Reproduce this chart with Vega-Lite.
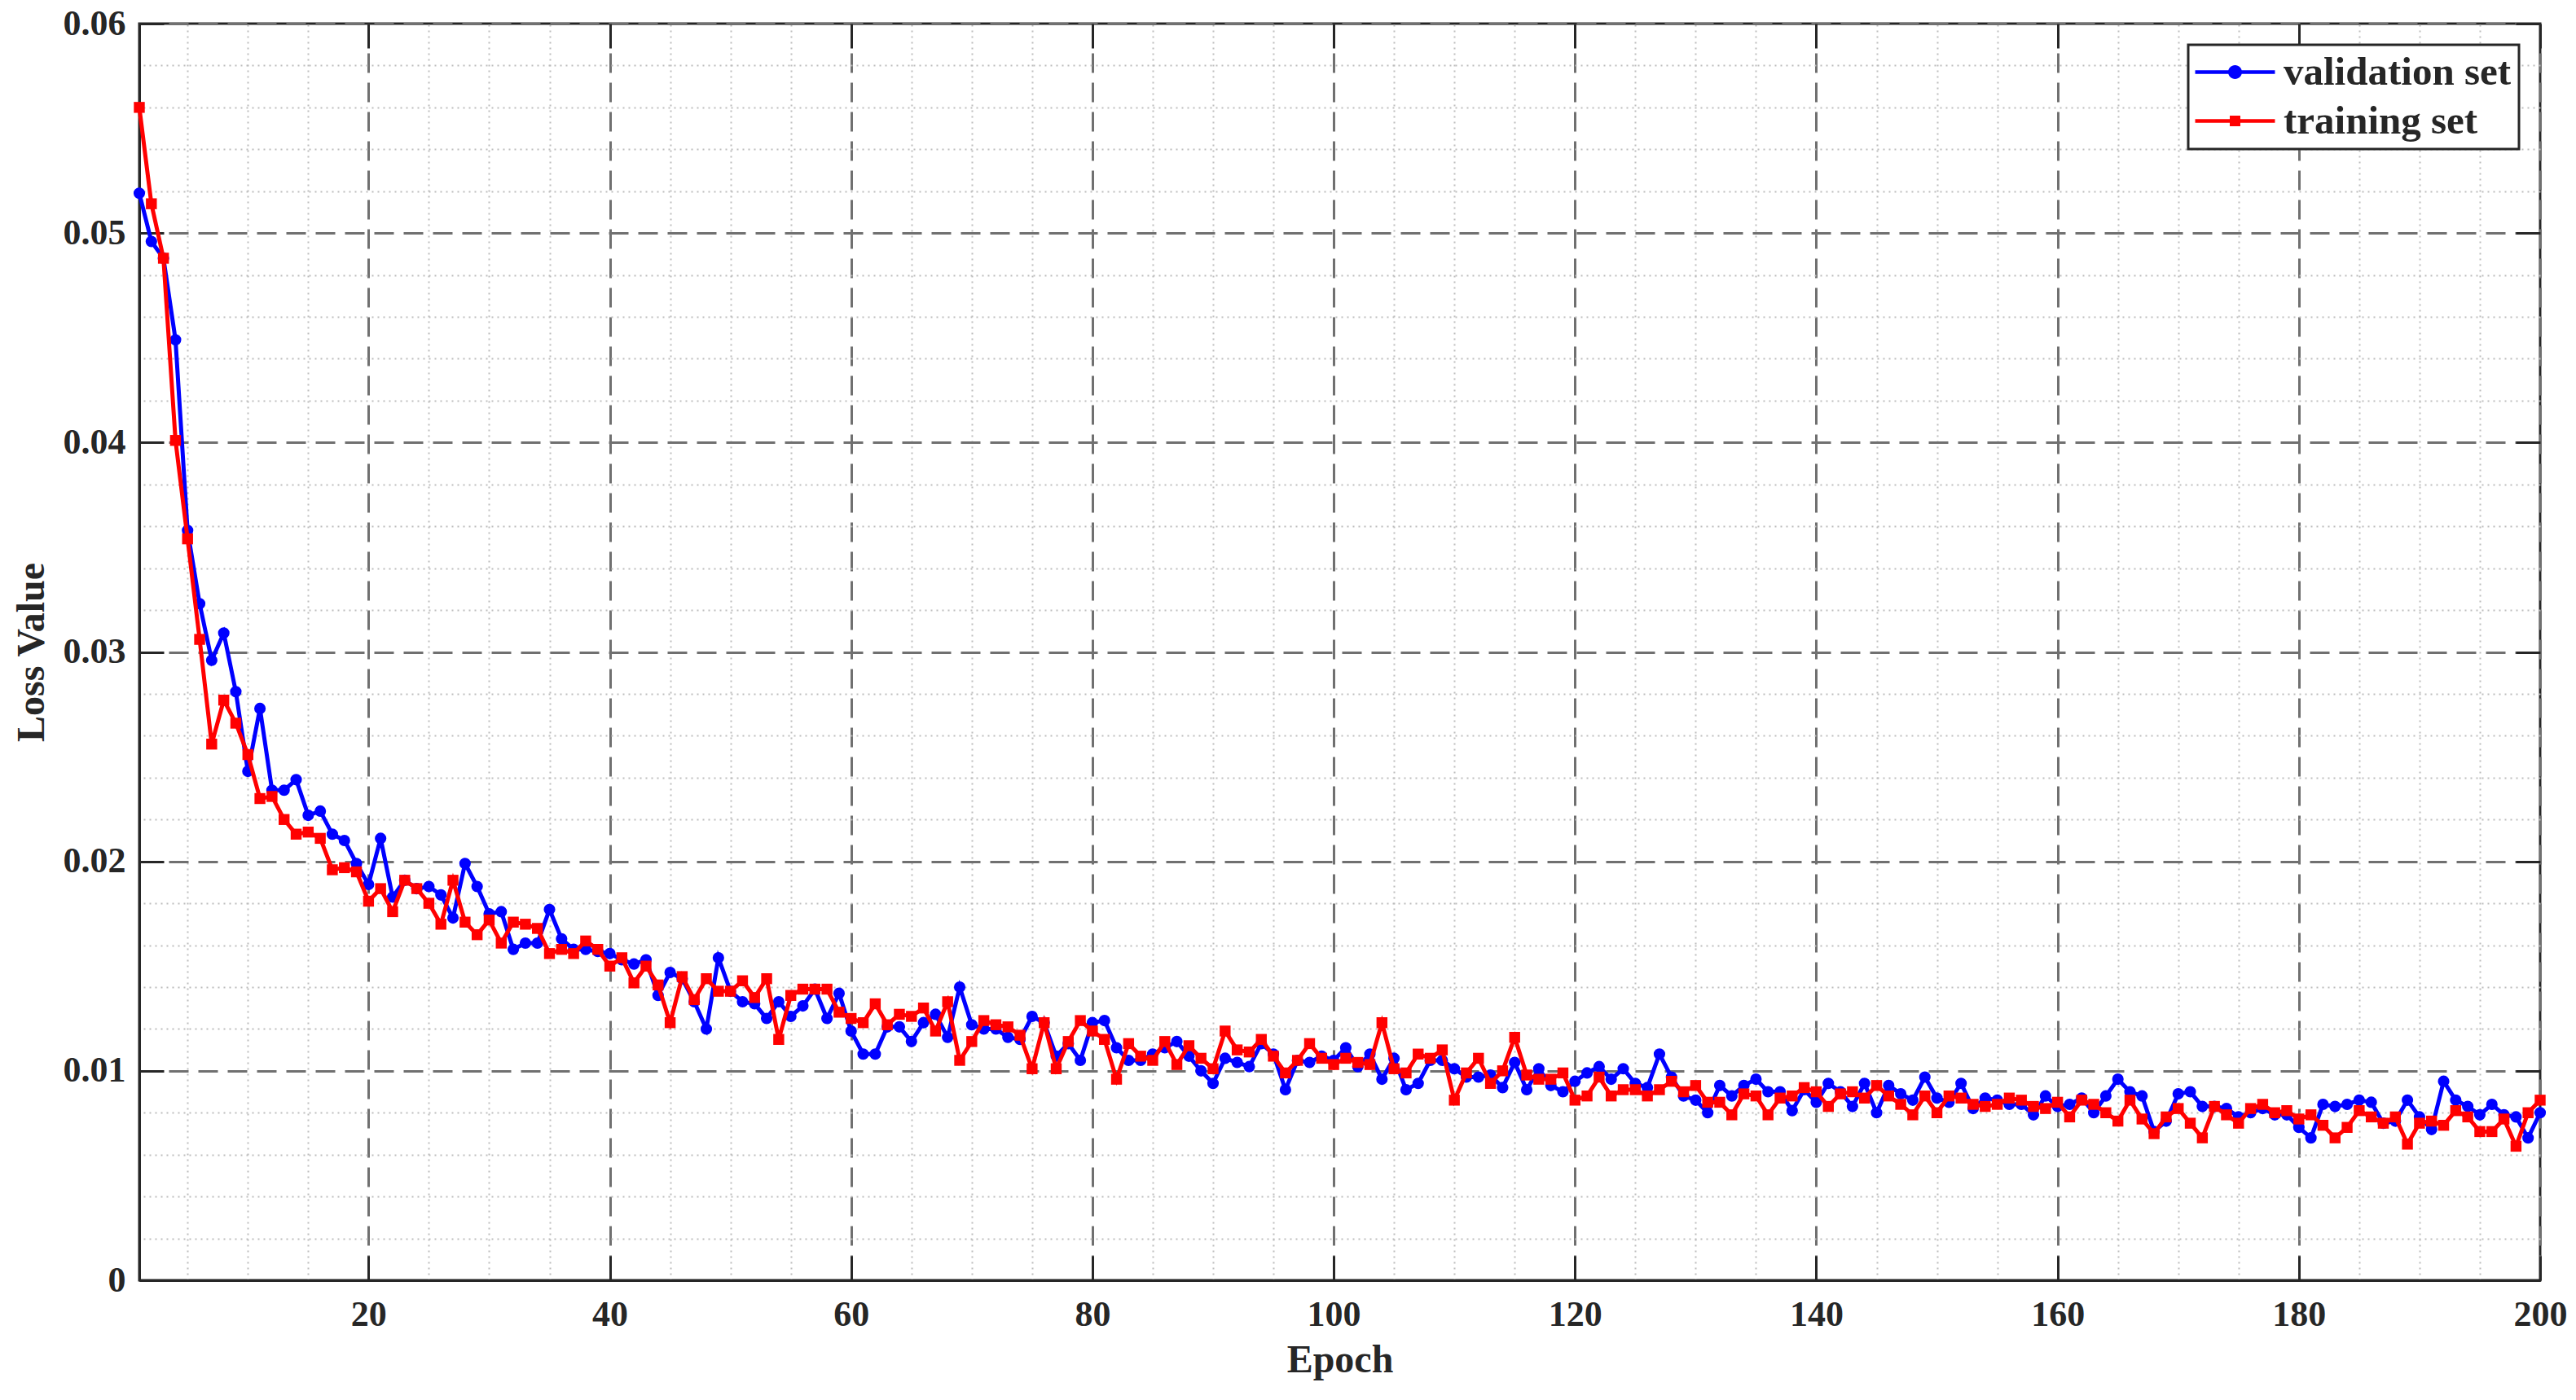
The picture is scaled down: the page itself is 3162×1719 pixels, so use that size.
{
  "$schema": "https://vega.github.io/schema/vega-lite/v6.json",
  "width": 2947,
  "height": 1543,
  "autosize": {"type": "none"},
  "padding": {"left": 171, "top": 29, "right": 44, "bottom": 147},
  "background": "white",
  "config": {
    "view": {"stroke": "#262626", "strokeWidth": 3},
    "font": "Liberation Serif",
    "axis": {
      "labelFont": "Liberation Serif", "labelFontSize": 44, "labelFontWeight": "bold", "labelColor": "#262626",
      "titleFont": "Liberation Serif", "titleFontSize": 48, "titleFontWeight": "bold", "titleColor": "#262626",
      "domainColor": "#262626", "domainWidth": 3, "tickColor": "#262626", "tickWidth": 3,
      "labelOverlap": false
    },
    "legend": {
      "orient": "top-right", "offset": 26, "strokeColor": "#262626", "strokeWidth": 3, "fillColor": "white",
      "padding": 9, "labelFont": "Liberation Serif", "labelFontSize": 49, "labelFontWeight": "bold", "labelColor": "#262626",
      "labelLimit": 0, "symbolSize": 2304, "symbolOffset": 24, "labelOffset": 35, "rowPadding": 10, "title": null,
      "symbolStrokeWidth": 0
    }
  },
  "data": {"values": [
{"epoch":1,"set":"validation set","loss":0.0519},{"epoch":2,"set":"validation set","loss":0.0496},{"epoch":3,"set":"validation set","loss":0.0488},{"epoch":4,"set":"validation set","loss":0.0449},{"epoch":5,"set":"validation set","loss":0.0358},
{"epoch":6,"set":"validation set","loss":0.0323},{"epoch":7,"set":"validation set","loss":0.0296},{"epoch":8,"set":"validation set","loss":0.0309},{"epoch":9,"set":"validation set","loss":0.0281},{"epoch":10,"set":"validation set","loss":0.0243},
{"epoch":11,"set":"validation set","loss":0.0273},{"epoch":12,"set":"validation set","loss":0.0234},{"epoch":13,"set":"validation set","loss":0.0234},{"epoch":14,"set":"validation set","loss":0.0239},{"epoch":15,"set":"validation set","loss":0.0222},
{"epoch":16,"set":"validation set","loss":0.0224},{"epoch":17,"set":"validation set","loss":0.0213},{"epoch":18,"set":"validation set","loss":0.0210},{"epoch":19,"set":"validation set","loss":0.0199},{"epoch":20,"set":"validation set","loss":0.0189},
{"epoch":21,"set":"validation set","loss":0.0211},{"epoch":22,"set":"validation set","loss":0.0183},{"epoch":23,"set":"validation set","loss":0.0191},{"epoch":24,"set":"validation set","loss":0.0187},{"epoch":25,"set":"validation set","loss":0.0188},
{"epoch":26,"set":"validation set","loss":0.0184},{"epoch":27,"set":"validation set","loss":0.0173},{"epoch":28,"set":"validation set","loss":0.0199},{"epoch":29,"set":"validation set","loss":0.0188},{"epoch":30,"set":"validation set","loss":0.0175},
{"epoch":31,"set":"validation set","loss":0.0176},{"epoch":32,"set":"validation set","loss":0.0158},{"epoch":33,"set":"validation set","loss":0.0161},{"epoch":34,"set":"validation set","loss":0.0161},{"epoch":35,"set":"validation set","loss":0.0177},
{"epoch":36,"set":"validation set","loss":0.0163},{"epoch":37,"set":"validation set","loss":0.0158},{"epoch":38,"set":"validation set","loss":0.0158},{"epoch":39,"set":"validation set","loss":0.0157},{"epoch":40,"set":"validation set","loss":0.0156},
{"epoch":41,"set":"validation set","loss":0.0153},{"epoch":42,"set":"validation set","loss":0.0151},{"epoch":43,"set":"validation set","loss":0.0153},{"epoch":44,"set":"validation set","loss":0.0136},{"epoch":45,"set":"validation set","loss":0.0147},
{"epoch":46,"set":"validation set","loss":0.0144},{"epoch":47,"set":"validation set","loss":0.0133},{"epoch":48,"set":"validation set","loss":0.0120},{"epoch":49,"set":"validation set","loss":0.0154},{"epoch":50,"set":"validation set","loss":0.0138},
{"epoch":51,"set":"validation set","loss":0.0133},{"epoch":52,"set":"validation set","loss":0.0132},{"epoch":53,"set":"validation set","loss":0.0125},{"epoch":54,"set":"validation set","loss":0.0133},{"epoch":55,"set":"validation set","loss":0.0126},
{"epoch":56,"set":"validation set","loss":0.0131},{"epoch":57,"set":"validation set","loss":0.0139},{"epoch":58,"set":"validation set","loss":0.0125},{"epoch":59,"set":"validation set","loss":0.0137},{"epoch":60,"set":"validation set","loss":0.0119},
{"epoch":61,"set":"validation set","loss":0.0108},{"epoch":62,"set":"validation set","loss":0.0108},{"epoch":63,"set":"validation set","loss":0.0121},{"epoch":64,"set":"validation set","loss":0.0121},{"epoch":65,"set":"validation set","loss":0.0114},
{"epoch":66,"set":"validation set","loss":0.0123},{"epoch":67,"set":"validation set","loss":0.0127},{"epoch":68,"set":"validation set","loss":0.0116},{"epoch":69,"set":"validation set","loss":0.0140},{"epoch":70,"set":"validation set","loss":0.0122},
{"epoch":71,"set":"validation set","loss":0.0120},{"epoch":72,"set":"validation set","loss":0.0120},{"epoch":73,"set":"validation set","loss":0.0116},{"epoch":74,"set":"validation set","loss":0.0115},{"epoch":75,"set":"validation set","loss":0.0126},
{"epoch":76,"set":"validation set","loss":0.0123},{"epoch":77,"set":"validation set","loss":0.0107},{"epoch":78,"set":"validation set","loss":0.0113},{"epoch":79,"set":"validation set","loss":0.0105},{"epoch":80,"set":"validation set","loss":0.0123},
{"epoch":81,"set":"validation set","loss":0.0124},{"epoch":82,"set":"validation set","loss":0.0111},{"epoch":83,"set":"validation set","loss":0.0105},{"epoch":84,"set":"validation set","loss":0.0105},{"epoch":85,"set":"validation set","loss":0.0108},
{"epoch":86,"set":"validation set","loss":0.0111},{"epoch":87,"set":"validation set","loss":0.0114},{"epoch":88,"set":"validation set","loss":0.0107},{"epoch":89,"set":"validation set","loss":0.0100},{"epoch":90,"set":"validation set","loss":0.0094},
{"epoch":91,"set":"validation set","loss":0.0106},{"epoch":92,"set":"validation set","loss":0.0104},{"epoch":93,"set":"validation set","loss":0.0102},{"epoch":94,"set":"validation set","loss":0.0113},{"epoch":95,"set":"validation set","loss":0.0108},
{"epoch":96,"set":"validation set","loss":0.0091},{"epoch":97,"set":"validation set","loss":0.0105},{"epoch":98,"set":"validation set","loss":0.0104},{"epoch":99,"set":"validation set","loss":0.0107},{"epoch":100,"set":"validation set","loss":0.0105},
{"epoch":101,"set":"validation set","loss":0.0111},{"epoch":102,"set":"validation set","loss":0.0102},{"epoch":103,"set":"validation set","loss":0.0108},{"epoch":104,"set":"validation set","loss":0.0096},{"epoch":105,"set":"validation set","loss":0.0106},
{"epoch":106,"set":"validation set","loss":0.0091},{"epoch":107,"set":"validation set","loss":0.0094},{"epoch":108,"set":"validation set","loss":0.0105},{"epoch":109,"set":"validation set","loss":0.0105},{"epoch":110,"set":"validation set","loss":0.0101},
{"epoch":111,"set":"validation set","loss":0.0097},{"epoch":112,"set":"validation set","loss":0.0097},{"epoch":113,"set":"validation set","loss":0.0098},{"epoch":114,"set":"validation set","loss":0.0092},{"epoch":115,"set":"validation set","loss":0.0104},
{"epoch":116,"set":"validation set","loss":0.0091},{"epoch":117,"set":"validation set","loss":0.0101},{"epoch":118,"set":"validation set","loss":0.0093},{"epoch":119,"set":"validation set","loss":0.0090},{"epoch":120,"set":"validation set","loss":0.0095},
{"epoch":121,"set":"validation set","loss":0.0099},{"epoch":122,"set":"validation set","loss":0.0102},{"epoch":123,"set":"validation set","loss":0.0096},{"epoch":124,"set":"validation set","loss":0.0101},{"epoch":125,"set":"validation set","loss":0.0094},
{"epoch":126,"set":"validation set","loss":0.0092},{"epoch":127,"set":"validation set","loss":0.0108},{"epoch":128,"set":"validation set","loss":0.0097},{"epoch":129,"set":"validation set","loss":0.0088},{"epoch":130,"set":"validation set","loss":0.0086},
{"epoch":131,"set":"validation set","loss":0.0080},{"epoch":132,"set":"validation set","loss":0.0093},{"epoch":133,"set":"validation set","loss":0.0088},{"epoch":134,"set":"validation set","loss":0.0093},{"epoch":135,"set":"validation set","loss":0.0096},
{"epoch":136,"set":"validation set","loss":0.0090},{"epoch":137,"set":"validation set","loss":0.0090},{"epoch":138,"set":"validation set","loss":0.0081},{"epoch":139,"set":"validation set","loss":0.0091},{"epoch":140,"set":"validation set","loss":0.0085},
{"epoch":141,"set":"validation set","loss":0.0094},{"epoch":142,"set":"validation set","loss":0.0090},{"epoch":143,"set":"validation set","loss":0.0083},{"epoch":144,"set":"validation set","loss":0.0094},{"epoch":145,"set":"validation set","loss":0.0080},
{"epoch":146,"set":"validation set","loss":0.0093},{"epoch":147,"set":"validation set","loss":0.0089},{"epoch":148,"set":"validation set","loss":0.0086},{"epoch":149,"set":"validation set","loss":0.0097},{"epoch":150,"set":"validation set","loss":0.0087},
{"epoch":151,"set":"validation set","loss":0.0085},{"epoch":152,"set":"validation set","loss":0.0094},{"epoch":153,"set":"validation set","loss":0.0082},{"epoch":154,"set":"validation set","loss":0.0087},{"epoch":155,"set":"validation set","loss":0.0086},
{"epoch":156,"set":"validation set","loss":0.0084},{"epoch":157,"set":"validation set","loss":0.0084},{"epoch":158,"set":"validation set","loss":0.0079},{"epoch":159,"set":"validation set","loss":0.0088},{"epoch":160,"set":"validation set","loss":0.0083},
{"epoch":161,"set":"validation set","loss":0.0084},{"epoch":162,"set":"validation set","loss":0.0087},{"epoch":163,"set":"validation set","loss":0.0080},{"epoch":164,"set":"validation set","loss":0.0088},{"epoch":165,"set":"validation set","loss":0.0096},
{"epoch":166,"set":"validation set","loss":0.0090},{"epoch":167,"set":"validation set","loss":0.0088},{"epoch":168,"set":"validation set","loss":0.0071},{"epoch":169,"set":"validation set","loss":0.0076},{"epoch":170,"set":"validation set","loss":0.0089},
{"epoch":171,"set":"validation set","loss":0.0090},{"epoch":172,"set":"validation set","loss":0.0083},{"epoch":173,"set":"validation set","loss":0.0083},{"epoch":174,"set":"validation set","loss":0.0082},{"epoch":175,"set":"validation set","loss":0.0078},
{"epoch":176,"set":"validation set","loss":0.0080},{"epoch":177,"set":"validation set","loss":0.0082},{"epoch":178,"set":"validation set","loss":0.0079},{"epoch":179,"set":"validation set","loss":0.0079},{"epoch":180,"set":"validation set","loss":0.0073},
{"epoch":181,"set":"validation set","loss":0.0068},{"epoch":182,"set":"validation set","loss":0.0084},{"epoch":183,"set":"validation set","loss":0.0083},{"epoch":184,"set":"validation set","loss":0.0084},{"epoch":185,"set":"validation set","loss":0.0086},
{"epoch":186,"set":"validation set","loss":0.0085},{"epoch":187,"set":"validation set","loss":0.0075},{"epoch":188,"set":"validation set","loss":0.0076},{"epoch":189,"set":"validation set","loss":0.0086},{"epoch":190,"set":"validation set","loss":0.0078},
{"epoch":191,"set":"validation set","loss":0.0072},{"epoch":192,"set":"validation set","loss":0.0095},{"epoch":193,"set":"validation set","loss":0.0086},{"epoch":194,"set":"validation set","loss":0.0083},{"epoch":195,"set":"validation set","loss":0.0079},
{"epoch":196,"set":"validation set","loss":0.0084},{"epoch":197,"set":"validation set","loss":0.0079},{"epoch":198,"set":"validation set","loss":0.0078},{"epoch":199,"set":"validation set","loss":0.0068},{"epoch":200,"set":"validation set","loss":0.0080},
{"epoch":1,"set":"training set","loss":0.0560},{"epoch":2,"set":"training set","loss":0.0514},{"epoch":3,"set":"training set","loss":0.0488},{"epoch":4,"set":"training set","loss":0.0401},{"epoch":5,"set":"training set","loss":0.0354},
{"epoch":6,"set":"training set","loss":0.0306},{"epoch":7,"set":"training set","loss":0.0256},{"epoch":8,"set":"training set","loss":0.0277},{"epoch":9,"set":"training set","loss":0.0266},{"epoch":10,"set":"training set","loss":0.0251},
{"epoch":11,"set":"training set","loss":0.0230},{"epoch":12,"set":"training set","loss":0.0231},{"epoch":13,"set":"training set","loss":0.0220},{"epoch":14,"set":"training set","loss":0.0213},{"epoch":15,"set":"training set","loss":0.0214},
{"epoch":16,"set":"training set","loss":0.0211},{"epoch":17,"set":"training set","loss":0.0196},{"epoch":18,"set":"training set","loss":0.0197},{"epoch":19,"set":"training set","loss":0.0195},{"epoch":20,"set":"training set","loss":0.0181},
{"epoch":21,"set":"training set","loss":0.0187},{"epoch":22,"set":"training set","loss":0.0176},{"epoch":23,"set":"training set","loss":0.0191},{"epoch":24,"set":"training set","loss":0.0187},{"epoch":25,"set":"training set","loss":0.0180},
{"epoch":26,"set":"training set","loss":0.0170},{"epoch":27,"set":"training set","loss":0.0191},{"epoch":28,"set":"training set","loss":0.0171},{"epoch":29,"set":"training set","loss":0.0165},{"epoch":30,"set":"training set","loss":0.0172},
{"epoch":31,"set":"training set","loss":0.0161},{"epoch":32,"set":"training set","loss":0.0171},{"epoch":33,"set":"training set","loss":0.0170},{"epoch":34,"set":"training set","loss":0.0168},{"epoch":35,"set":"training set","loss":0.0156},
{"epoch":36,"set":"training set","loss":0.0158},{"epoch":37,"set":"training set","loss":0.0156},{"epoch":38,"set":"training set","loss":0.0162},{"epoch":39,"set":"training set","loss":0.0158},{"epoch":40,"set":"training set","loss":0.0150},
{"epoch":41,"set":"training set","loss":0.0154},{"epoch":42,"set":"training set","loss":0.0142},{"epoch":43,"set":"training set","loss":0.0150},{"epoch":44,"set":"training set","loss":0.0141},{"epoch":45,"set":"training set","loss":0.0123},
{"epoch":46,"set":"training set","loss":0.0145},{"epoch":47,"set":"training set","loss":0.0134},{"epoch":48,"set":"training set","loss":0.0144},{"epoch":49,"set":"training set","loss":0.0138},{"epoch":50,"set":"training set","loss":0.0138},
{"epoch":51,"set":"training set","loss":0.0143},{"epoch":52,"set":"training set","loss":0.0135},{"epoch":53,"set":"training set","loss":0.0144},{"epoch":54,"set":"training set","loss":0.0115},{"epoch":55,"set":"training set","loss":0.0136},
{"epoch":56,"set":"training set","loss":0.0139},{"epoch":57,"set":"training set","loss":0.0139},{"epoch":58,"set":"training set","loss":0.0139},{"epoch":59,"set":"training set","loss":0.0128},{"epoch":60,"set":"training set","loss":0.0125},
{"epoch":61,"set":"training set","loss":0.0123},{"epoch":62,"set":"training set","loss":0.0132},{"epoch":63,"set":"training set","loss":0.0122},{"epoch":64,"set":"training set","loss":0.0127},{"epoch":65,"set":"training set","loss":0.0126},
{"epoch":66,"set":"training set","loss":0.0130},{"epoch":67,"set":"training set","loss":0.0119},{"epoch":68,"set":"training set","loss":0.0133},{"epoch":69,"set":"training set","loss":0.0105},{"epoch":70,"set":"training set","loss":0.0114},
{"epoch":71,"set":"training set","loss":0.0124},{"epoch":72,"set":"training set","loss":0.0122},{"epoch":73,"set":"training set","loss":0.0121},{"epoch":74,"set":"training set","loss":0.0117},{"epoch":75,"set":"training set","loss":0.0101},
{"epoch":76,"set":"training set","loss":0.0123},{"epoch":77,"set":"training set","loss":0.0101},{"epoch":78,"set":"training set","loss":0.0114},{"epoch":79,"set":"training set","loss":0.0124},{"epoch":80,"set":"training set","loss":0.0119},
{"epoch":81,"set":"training set","loss":0.0115},{"epoch":82,"set":"training set","loss":0.0096},{"epoch":83,"set":"training set","loss":0.0113},{"epoch":84,"set":"training set","loss":0.0107},{"epoch":85,"set":"training set","loss":0.0105},
{"epoch":86,"set":"training set","loss":0.0114},{"epoch":87,"set":"training set","loss":0.0103},{"epoch":88,"set":"training set","loss":0.0112},{"epoch":89,"set":"training set","loss":0.0106},{"epoch":90,"set":"training set","loss":0.0101},
{"epoch":91,"set":"training set","loss":0.0119},{"epoch":92,"set":"training set","loss":0.0110},{"epoch":93,"set":"training set","loss":0.0109},{"epoch":94,"set":"training set","loss":0.0115},{"epoch":95,"set":"training set","loss":0.0107},
{"epoch":96,"set":"training set","loss":0.0099},{"epoch":97,"set":"training set","loss":0.0105},{"epoch":98,"set":"training set","loss":0.0113},{"epoch":99,"set":"training set","loss":0.0106},{"epoch":100,"set":"training set","loss":0.0103},
{"epoch":101,"set":"training set","loss":0.0106},{"epoch":102,"set":"training set","loss":0.0104},{"epoch":103,"set":"training set","loss":0.0103},{"epoch":104,"set":"training set","loss":0.0123},{"epoch":105,"set":"training set","loss":0.0101},
{"epoch":106,"set":"training set","loss":0.0099},{"epoch":107,"set":"training set","loss":0.0108},{"epoch":108,"set":"training set","loss":0.0106},{"epoch":109,"set":"training set","loss":0.0110},{"epoch":110,"set":"training set","loss":0.0086},
{"epoch":111,"set":"training set","loss":0.0099},{"epoch":112,"set":"training set","loss":0.0106},{"epoch":113,"set":"training set","loss":0.0094},{"epoch":114,"set":"training set","loss":0.0100},{"epoch":115,"set":"training set","loss":0.0116},
{"epoch":116,"set":"training set","loss":0.0098},{"epoch":117,"set":"training set","loss":0.0096},{"epoch":118,"set":"training set","loss":0.0096},{"epoch":119,"set":"training set","loss":0.0099},{"epoch":120,"set":"training set","loss":0.0086},
{"epoch":121,"set":"training set","loss":0.0088},{"epoch":122,"set":"training set","loss":0.0097},{"epoch":123,"set":"training set","loss":0.0088},{"epoch":124,"set":"training set","loss":0.0091},{"epoch":125,"set":"training set","loss":0.0091},
{"epoch":126,"set":"training set","loss":0.0088},{"epoch":127,"set":"training set","loss":0.0091},{"epoch":128,"set":"training set","loss":0.0095},{"epoch":129,"set":"training set","loss":0.0090},{"epoch":130,"set":"training set","loss":0.0093},
{"epoch":131,"set":"training set","loss":0.0085},{"epoch":132,"set":"training set","loss":0.0085},{"epoch":133,"set":"training set","loss":0.0079},{"epoch":134,"set":"training set","loss":0.0089},{"epoch":135,"set":"training set","loss":0.0088},
{"epoch":136,"set":"training set","loss":0.0079},{"epoch":137,"set":"training set","loss":0.0087},{"epoch":138,"set":"training set","loss":0.0088},{"epoch":139,"set":"training set","loss":0.0092},{"epoch":140,"set":"training set","loss":0.0090},
{"epoch":141,"set":"training set","loss":0.0083},{"epoch":142,"set":"training set","loss":0.0089},{"epoch":143,"set":"training set","loss":0.0090},{"epoch":144,"set":"training set","loss":0.0087},{"epoch":145,"set":"training set","loss":0.0093},
{"epoch":146,"set":"training set","loss":0.0088},{"epoch":147,"set":"training set","loss":0.0084},{"epoch":148,"set":"training set","loss":0.0079},{"epoch":149,"set":"training set","loss":0.0088},{"epoch":150,"set":"training set","loss":0.0080},
{"epoch":151,"set":"training set","loss":0.0088},{"epoch":152,"set":"training set","loss":0.0087},{"epoch":153,"set":"training set","loss":0.0084},{"epoch":154,"set":"training set","loss":0.0083},{"epoch":155,"set":"training set","loss":0.0084},
{"epoch":156,"set":"training set","loss":0.0087},{"epoch":157,"set":"training set","loss":0.0086},{"epoch":158,"set":"training set","loss":0.0083},{"epoch":159,"set":"training set","loss":0.0082},{"epoch":160,"set":"training set","loss":0.0085},
{"epoch":161,"set":"training set","loss":0.0078},{"epoch":162,"set":"training set","loss":0.0086},{"epoch":163,"set":"training set","loss":0.0084},{"epoch":164,"set":"training set","loss":0.0080},{"epoch":165,"set":"training set","loss":0.0076},
{"epoch":166,"set":"training set","loss":0.0086},{"epoch":167,"set":"training set","loss":0.0077},{"epoch":168,"set":"training set","loss":0.0070},{"epoch":169,"set":"training set","loss":0.0078},{"epoch":170,"set":"training set","loss":0.0082},
{"epoch":171,"set":"training set","loss":0.0075},{"epoch":172,"set":"training set","loss":0.0068},{"epoch":173,"set":"training set","loss":0.0083},{"epoch":174,"set":"training set","loss":0.0079},{"epoch":175,"set":"training set","loss":0.0075},
{"epoch":176,"set":"training set","loss":0.0082},{"epoch":177,"set":"training set","loss":0.0084},{"epoch":178,"set":"training set","loss":0.0080},{"epoch":179,"set":"training set","loss":0.0081},{"epoch":180,"set":"training set","loss":0.0077},
{"epoch":181,"set":"training set","loss":0.0079},{"epoch":182,"set":"training set","loss":0.0074},{"epoch":183,"set":"training set","loss":0.0068},{"epoch":184,"set":"training set","loss":0.0073},{"epoch":185,"set":"training set","loss":0.0081},
{"epoch":186,"set":"training set","loss":0.0078},{"epoch":187,"set":"training set","loss":0.0075},{"epoch":188,"set":"training set","loss":0.0078},{"epoch":189,"set":"training set","loss":0.0065},{"epoch":190,"set":"training set","loss":0.0075},
{"epoch":191,"set":"training set","loss":0.0076},{"epoch":192,"set":"training set","loss":0.0074},{"epoch":193,"set":"training set","loss":0.0081},{"epoch":194,"set":"training set","loss":0.0078},{"epoch":195,"set":"training set","loss":0.0071},
{"epoch":196,"set":"training set","loss":0.0071},{"epoch":197,"set":"training set","loss":0.0077},{"epoch":198,"set":"training set","loss":0.0064},{"epoch":199,"set":"training set","loss":0.0080},{"epoch":200,"set":"training set","loss":0.0086}
  ]},
  "layer": [
    {
      "transform": [{"filter": "datum.set === 'validation set'"}],
      "mark": {"type": "line", "color": "#0000ff", "strokeWidth": 5},
      "encoding": {
        "x": {"field": "epoch", "type": "quantitative", "scale": {"domain": [1, 200], "nice": false, "zero": false},
          "axis": {"orient": "bottom", "values": [20,40,60,80,100,120,140,160,180,200], "title": "Epoch",
            "grid": true, "gridColor": "#707070", "gridDash": [24, 12], "gridWidth": 3,
            "tickSize": -30, "labelPadding": 50, "titlePadding": 10, "labelFlush": false}},
        "y": {"field": "loss", "type": "quantitative", "scale": {"domain": [0, 0.06], "nice": false},
          "axis": {"orient": "left", "values": [0,0.01,0.02,0.03,0.04,0.05,0.06], "format": ".2~f", "title": "Loss Value",
            "grid": true, "gridColor": "#707070", "gridDash": [24, 12], "gridWidth": 3,
            "tickSize": -30, "labelPadding": 47, "titlePadding": 14, "labelFlush": false}}
      }
    },
    {
      "transform": [{"filter": "datum.set === 'validation set'"}],
      "mark": {"type": "point", "filled": true, "opacity": 1, "shape": "circle", "size": 200, "color": "#0000ff"},
      "encoding": {
        "x": {"field": "epoch", "type": "quantitative",
          "axis": {"orient": "top", "values": [5,10,15,25,30,35,45,50,55,65,70,75,85,90,95,105,110,115,125,130,135,145,150,155,165,170,175,185,190,195],
            "grid": true, "gridColor": "#bdbdbd", "gridDash": [2, 5], "gridWidth": 2, "ticks": false, "labels": false, "domain": false, "title": null}},
        "y": {"field": "loss", "type": "quantitative",
          "axis": {"orient": "right", "values": [0.002,0.004,0.006,0.008,0.012,0.014,0.016,0.018,0.022,0.024,0.026,0.028,0.032,0.034,0.036,0.038,0.042,0.044,0.046,0.048,0.052,0.054,0.056,0.058],
            "grid": true, "gridColor": "#bdbdbd", "gridDash": [2, 5], "gridWidth": 2, "ticks": false, "labels": false, "domain": false, "title": null}}
      }
    },
    {
      "transform": [{"filter": "datum.set === 'training set'"}],
      "mark": {"type": "line", "color": "#ff0000", "strokeWidth": 5},
      "encoding": {
        "x": {"field": "epoch", "type": "quantitative",
          "axis": {"orient": "top", "values": [20,40,60,80,100,120,140,160,180,200], "grid": false, "ticks": true, "tickSize": -30, "labels": false, "domain": false, "title": null}},
        "y": {"field": "loss", "type": "quantitative",
          "axis": {"orient": "right", "values": [0,0.01,0.02,0.03,0.04,0.05,0.06], "grid": false, "ticks": true, "tickSize": -30, "labels": false, "domain": false, "title": null}}
      }
    },
    {
      "transform": [{"filter": "datum.set === 'training set'"}],
      "mark": {"type": "point", "filled": true, "opacity": 1, "shape": "square", "size": 180, "color": "#ff0000"},
      "encoding": {
        "x": {"field": "epoch", "type": "quantitative", "axis": null},
        "y": {"field": "loss", "type": "quantitative", "axis": null}
      }
    },
    {
      "transform": [{"filter": "false"}],
      "mark": {"type": "point", "filled": true, "opacity": 1},
      "encoding": {
        "x": {"field": "epoch", "type": "quantitative", "axis": null},
        "y": {"field": "loss", "type": "quantitative", "axis": null},
        "color": {"field": "set", "type": "nominal",
          "scale": {"domain": ["validation set", "training set"], "range": ["#0000ff", "#ff0000"]}, "legend": {"title": null}},
        "shape": {"field": "set", "type": "nominal",
          "scale": {"domain": ["validation set", "training set"],
            "range": ["M-2.04,-0.094L2.04,-0.094L2.04,0.094L-2.04,0.094Z M-0.354,0A0.354,0.354 0 1,1 0.354,0A0.354,0.354 0 1,1 -0.354,0Z",
                      "M-2.04,-0.094L2.04,-0.094L2.04,0.094L-2.04,0.094Z M-0.27,-0.27L0.27,-0.27L0.27,0.27L-0.27,0.27Z"]},
          "legend": {"title": null}}
      }
    }
  ],
  "resolve": {"axis": {"x": "independent", "y": "independent"}}
}
